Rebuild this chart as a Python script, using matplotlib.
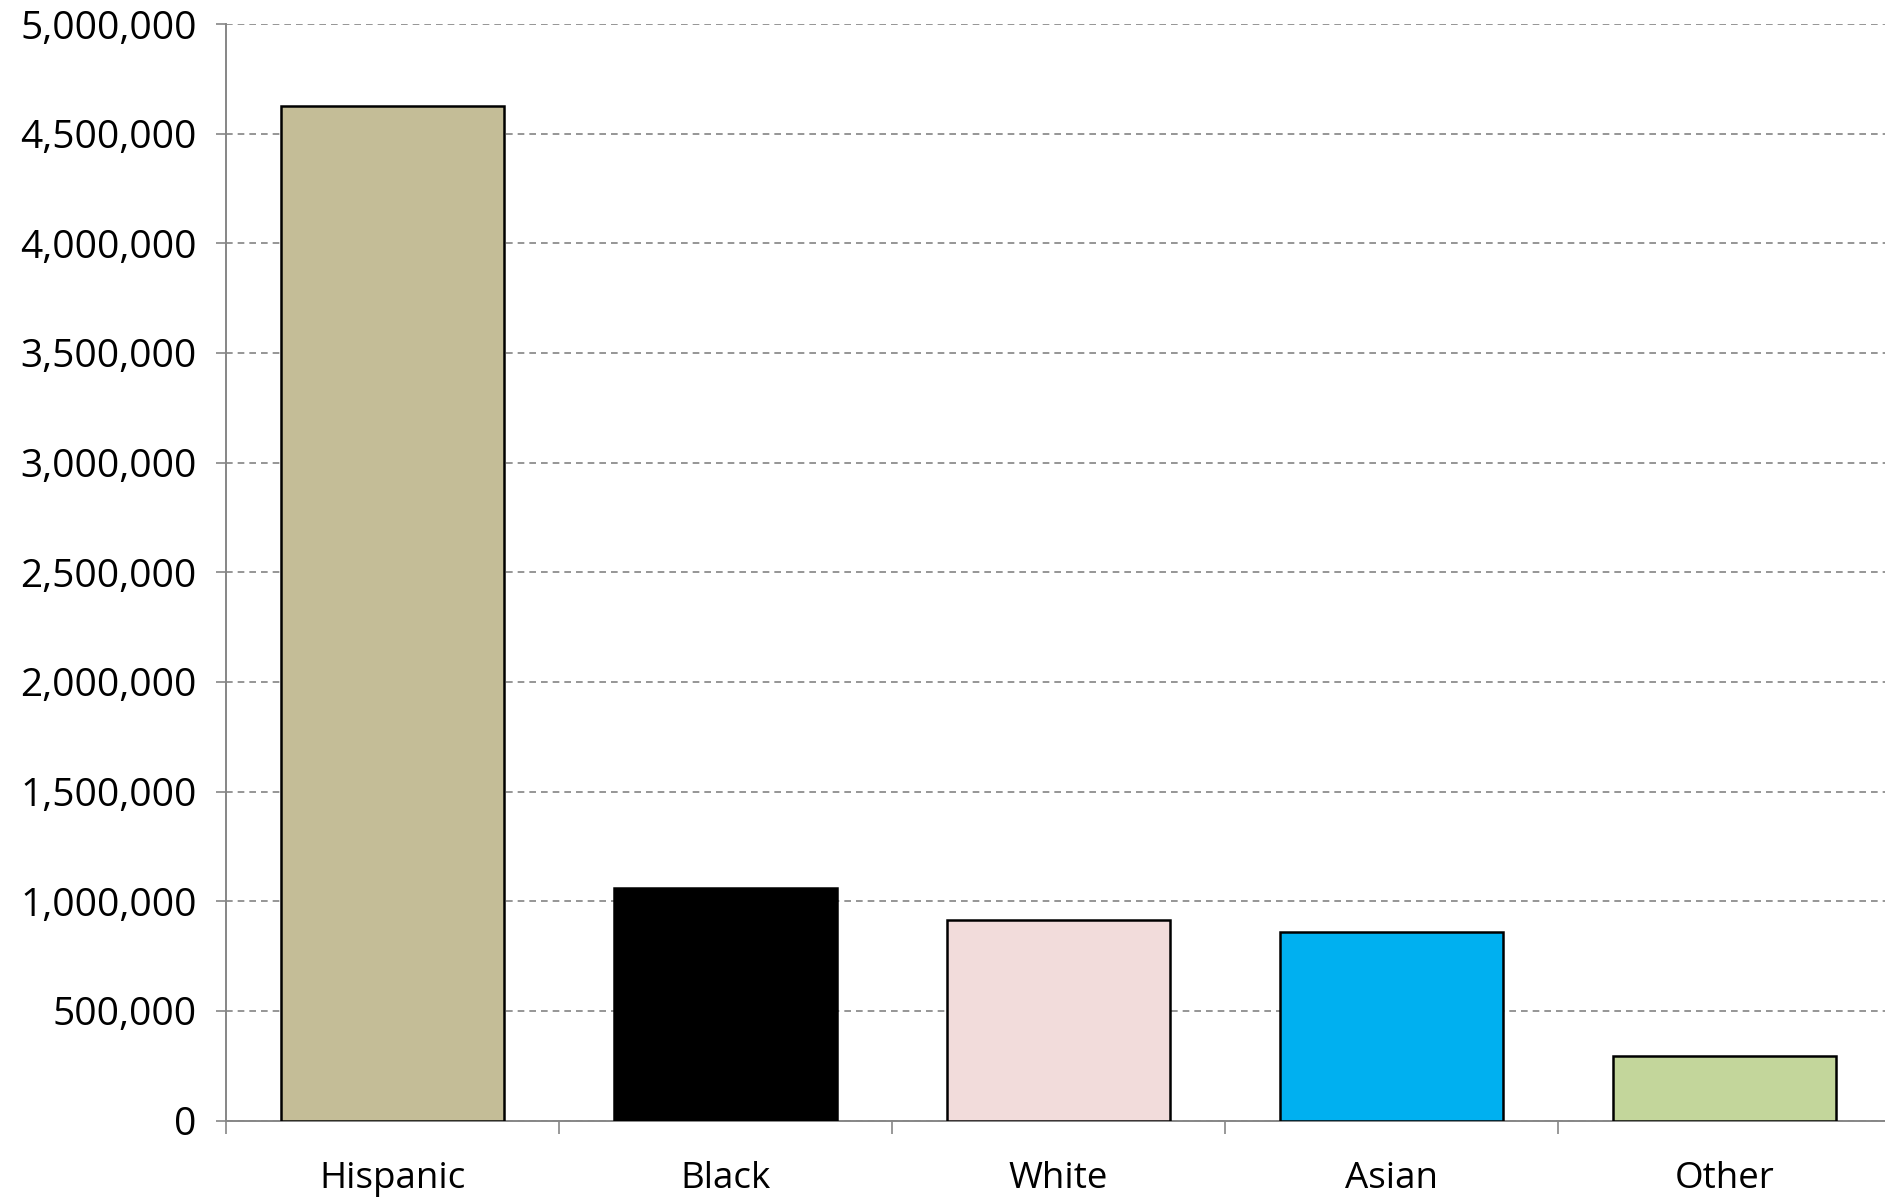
import matplotlib.pyplot as plt
from matplotlib.ticker import FuncFormatter

# bar data
groups = ["Hispanic", "Black", "White", "Asian", "Other"]
counts = [4625000, 1060000, 912000, 858000, 292000]
bar_colors = ["#C4BD97", "#000000", "#F2DCDB", "#00B0F0", "#C3D69B"]

plt.rcParams['font.family'] = ['Open Sans', 'DejaVu Sans']

W, H = 1885, 1199
fig = plt.figure(figsize=(W / 100, H / 100), dpi=100)
ax = fig.add_axes([226 / W, 1 - 1120.5 / H, 1665 / W, (1120.5 - 24) / H])

x = list(range(len(groups)))
ax.bar(x, counts, width=0.67, color=bar_colors, edgecolor="black", linewidth=1.8, zorder=3)

ax.set_xlim(-0.5, len(groups) - 0.5)
ax.set_ylim(0, 5000000)
ax.set_yticks(range(0, 5000001, 500000))
ax.yaxis.set_major_formatter(FuncFormatter(lambda v, p: "{:,.0f}".format(v)))

# category boundaries get tick marks, centres get the labels
ax.set_xticks([i - 0.5 for i in range(len(groups) + 1)])
ax.set_xticklabels([])
ax.set_xticks(x, minor=True)
ax.set_xticklabels(groups, minor=True)

ax.grid(axis="y", color="#848484", linestyle=(0, (4, 3)), linewidth=1.2, zorder=0)
ax.set_axisbelow(True)

for s in ["top", "right"]:
    ax.spines[s].set_visible(False)
for s in ["left", "bottom"]:
    ax.spines[s].set_color("#868686")
    ax.spines[s].set_linewidth(1.4)

ax.tick_params(axis="y", which="major", length=7, width=1.2, color="#868686",
               labelsize=28, pad=14, labelcolor="black")
ax.tick_params(axis="x", which="major", length=9, width=1.2, color="#868686")
ax.tick_params(axis="x", which="minor", length=0, labelsize=26.5, pad=29, labelcolor="black")

fig.savefig("out.png", dpi=100)
